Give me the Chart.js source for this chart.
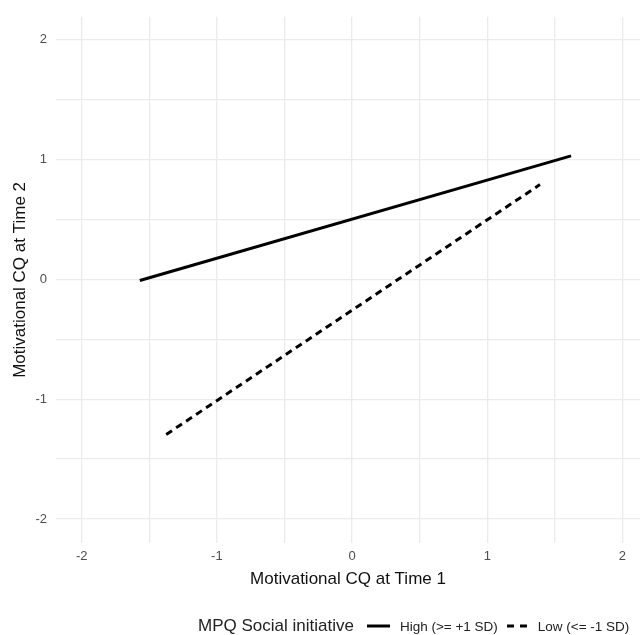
<!DOCTYPE html>
<html>
<head>
<meta charset="utf-8">
<script src="https://cdn.jsdelivr.net/npm/chart.js@4"></script>
<style>
  html, body { margin: 0; padding: 0; background: #fff; }
  #wrap { position: relative; width: 640px; height: 635px; overflow: hidden; }
  #legend {
    position: absolute; left: 198px; top: 615px; height: 22px; white-space: nowrap;
    font-family: "Liberation Sans", Arial, sans-serif; color: #222;
    display: flex; align-items: center;
  }
  #legend .title { font-size: 17px; margin-right: 13px; }
  #legend .item { font-size: 13.5px; margin-right: 9px; }
  #legend svg { margin-right: 10px; }
</style>
</head>
<body>
<div id="wrap">
  <canvas id="chart" width="640" height="635"></canvas>
  <div id="legend">
    <span class="title">MPQ Social initiative</span>
    <svg width="23" height="6"><line x1="0" y1="3" x2="23" y2="3" stroke="#000" stroke-width="3"/></svg>
    <span class="item">High (&gt;= +1 SD)</span>
    <svg width="21" height="6"><line x1="0" y1="3" x2="21" y2="3" stroke="#000" stroke-width="3" stroke-dasharray="7,6"/></svg>
    <span class="item">Low (&lt;= -1 SD)</span>
  </div>
</div>
<script>
// simple slopes (x = Motivational CQ T1, y = T2)
const highX = [-1.57, 1.62];
const highY = [-0.01, 1.03];
const lowX = [-1.375, 1.39];
const lowY = [-1.295, 0.79];

const xTicks = [-2, -1.5, -1, -0.5, 0, 0.5, 1, 1.5, 2];
const yTicks = [-2, -1.5, -1, -0.5, 0, 0.5, 1, 1.5, 2];
const labelTicks = [-2, -1, 0, 1, 2];

const toPoints = (xs, ys) => xs.map((x, i) => ({ x: x, y: ys[i] }));
const font = "'Liberation Sans', Arial, sans-serif";

function tickLabel(v) {
    return labelTicks.includes(v) ? String(v) : '';
}

new Chart(document.getElementById('chart'), {
    type: 'line',
    data: {
        datasets: [
            {
                label: 'High (>= +1 SD)',
                data: toPoints(highX, highY),
                borderColor: '#000',
                borderWidth: 3,
                pointRadius: 0,
                borderCapStyle: 'butt'
            },
            {
                label: 'Low (<= -1 SD)',
                data: toPoints(lowX, lowY),
                borderColor: '#000',
                borderWidth: 3,
                borderDash: [7, 5],
                pointRadius: 0,
                borderCapStyle: 'butt'
            }
        ]
    },
    options: {
        responsive: false,
        animation: false,
        layout: { padding: { top: 12, right: 0, left: 0, bottom: 42 } },
        plugins: { legend: { display: false }, tooltip: { enabled: false } },
        scales: {
            x: {
                type: 'linear',
                min: -2.19,
                max: 2.13,
                afterBuildTicks: s => { s.ticks = xTicks.map(v => ({ value: v })); },
                afterFit: s => { s.height = 50; },
                grid: { color: '#ebebeb', lineWidth: 1.3, drawTicks: false },
                border: { display: false },
                ticks: {
                    autoSkip: false, maxRotation: 0, padding: 6,
                    color: '#4d4d4d', font: { family: font, size: 13 },
                    callback: tickLabel
                },
                title: {
                    display: true, text: 'Motivational CQ at Time 1',
                    color: '#111', font: { family: font, size: 17 },
                    padding: { top: 4, bottom: 3 }
                }
            },
            y: {
                type: 'linear',
                min: -2.2,
                max: 2.19,
                afterBuildTicks: s => { s.ticks = yTicks.map(v => ({ value: v })); },
                afterFit: s => { s.width = 56; },
                grid: { color: '#ebebeb', lineWidth: 1.3, drawTicks: false },
                border: { display: false },
                ticks: {
                    autoSkip: false, padding: 9,
                    color: '#4d4d4d', font: { family: font, size: 13 },
                    callback: tickLabel
                },
                title: {
                    display: true, text: 'Motivational CQ at Time 2',
                    color: '#111', font: { family: font, size: 17 },
                    padding: { top: 10, bottom: 0 }
                }
            }
        }
    }
});
</script>
</body>
</html>
